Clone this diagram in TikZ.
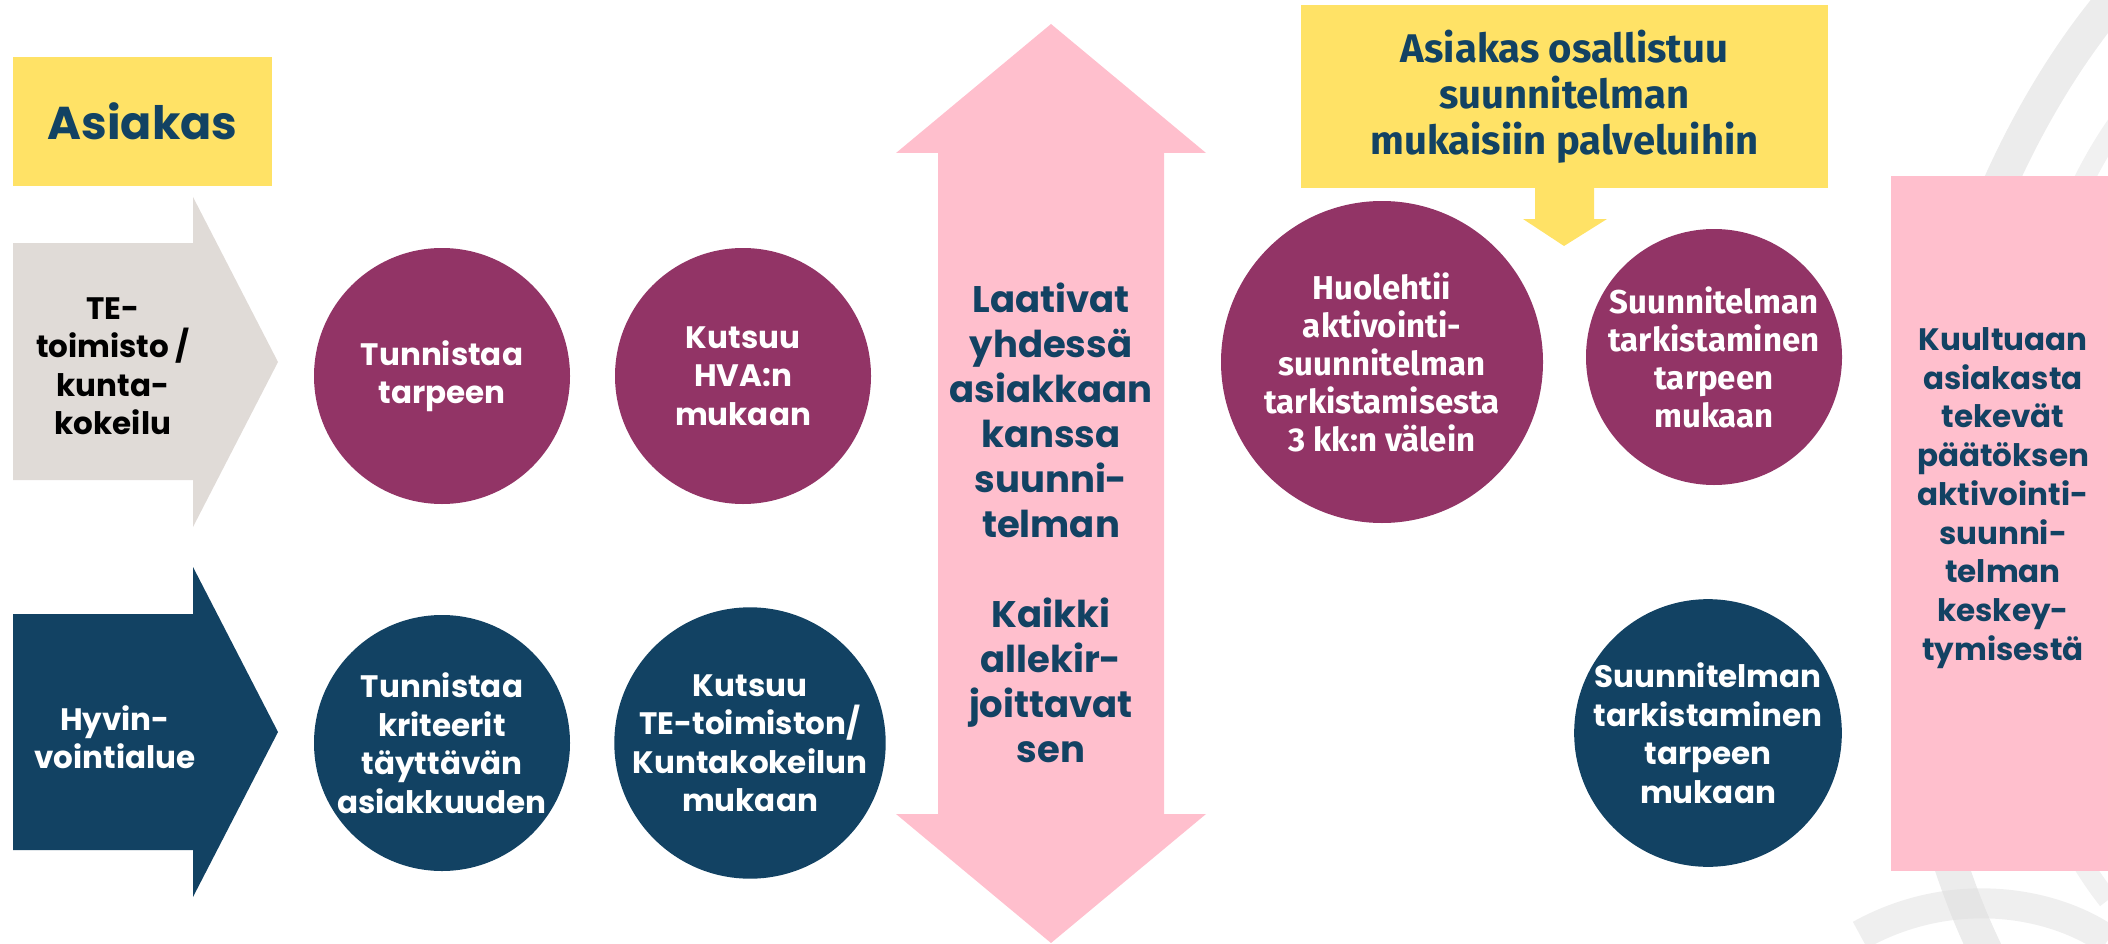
\documentclass[tikz,border=0pt]{standalone}
\usepackage{fontspec}
\newfontfamily\popf{Poppins}
\newfontfamily\firaf{Fira Sans}
\definecolor{purp}{HTML}{923466}
\definecolor{navy}{HTML}{124263}
\definecolor{pinkc}{HTML}{FFBFCD}
\definecolor{yell}{HTML}{FFE266}
\definecolor{greyc}{HTML}{E0DBD7}
\definecolor{brush}{HTML}{DCDCDC}
\begin{document}
\begin{tikzpicture}[x=1pt,y=-1pt,
  circp/.style={circle,fill=purp,minimum size=256pt,inner sep=0pt,align=center,text=white},
  circn/.style={circle,fill=navy,minimum size=256pt,inner sep=0pt,align=center,text=white},
  popt/.style={font=\popf\bfseries\fontsize{31}{38.5}\selectfont},
  firat/.style={font=\firaf\bfseries\fontsize{33}{38}\selectfont},
  darktxt/.style={text=navy,align=center,inner sep=0pt}]
\useasboundingbox (0,0) rectangle (2108,944);
% brush strokes
\draw[brush,opacity=0.55,line width=34pt] (2130,-20) .. controls (1930,200) and (1830,640) .. (1990,960);
\draw[brush,opacity=0.4,line width=20pt] (2120,120) .. controls (1990,300) and (1950,700) .. (2108,900);
\draw[brush,opacity=0.45,line width=30pt] (1860,935) .. controls (1950,885) and (2050,900) .. (2108,940);
% Asiakas box
\node[fill=yell,minimum width=259pt,minimum height=129pt,inner sep=0pt,text=navy,font=\popf\bfseries\fontsize{46}{50}\selectfont] (asiakas) at (142.5,121.5) {Asiakas};
% grey arrow
\fill[greyc] (13,243) -- (193,243) -- (193,197) -- (278,362) -- (193,527) -- (193,480) -- (13,480) -- cycle;
\node[popt,align=center,text=black,inner sep=0pt] (te) at (113,366) {TE-\\toimisto /\\kunta-\\kokeilu};
% navy arrow
\fill[navy] (13,614) -- (193,614) -- (193,567) -- (278,732) -- (193,897) -- (193,850) -- (13,850) -- cycle;
\node[popt,align=center,text=white,inner sep=0pt] (hva) at (115,737) {Hyvin-\\vointialue};
% circles left
\node[circp,popt] (c1) at (442,376) {Tunnistaa\\tarpeen};
\node[circp,popt] (c2) at (743,376) {Kutsuu\\HVA:n\\mukaan};
\node[circn,popt] (c3) at (442,743) {Tunnistaa\\kriteerit\\täyttävän\\asiakkuuden};
\node[circn,popt] (c4) at (750,743) {Kutsuu\\TE-toimiston/\\Kuntakokeilun\\mukaan};
% pink double arrow
\fill[pinkc] (1051,24) -- (1206,153) -- (1164,153) -- (1164,814) -- (1206,814) -- (1051,943) -- (896,814) -- (938,814) -- (938,153) -- (896,153) -- cycle;
\node[darktxt,font=\popf\bfseries\fontsize{37}{45}\selectfont] (laat) at (1051,523) {Laativat\\yhdessä\\asiakkaan\\kanssa\\suunni-\\telman\\[45pt]Kaikki\\allekir-\\joittavat\\sen};
% yellow box with small arrow
\node[fill=yell,minimum width=527pt,minimum height=183pt,inner sep=0pt,darktxt,font=\firaf\bfseries\fontsize{40}{46}\selectfont] (osall) at (1564.5,96.5) {Asiakas osallistuu\\suunnitelman\\mukaisiin palveluihin};
\fill[yell] (1535,187) -- (1594,187) -- (1594,219) -- (1607,219) -- (1564,246) -- (1523,219) -- (1535,219) -- cycle;
% right circles
\node[circp,firat,minimum size=322pt] (c5) at (1382,362) {Huolehtii\\aktivointi-\\suunnitelman\\tarkistamisesta\\3 kk:n välein};
\node[circp,firat] (c6) at (1714,357) {Suunnitelman\\tarkistaminen\\tarpeen\\mukaan};
\node[circn,popt] (c7) at (1708,733) {Suunnitelman\\tarkistaminen\\tarpeen\\mukaan};
% right pink box
\fill[pinkc] (1891,176) rectangle (2108,871);
\node[darktxt,font=\popf\bfseries\fontsize{31}{38.7}\selectfont] (kuul) at (2003,498) {Kuultuaan\\asiakasta\\tekevät\\päätöksen\\aktivointi-\\suunni-\\telman\\keskey-\\tymisestä};
\end{tikzpicture}
\end{document}
